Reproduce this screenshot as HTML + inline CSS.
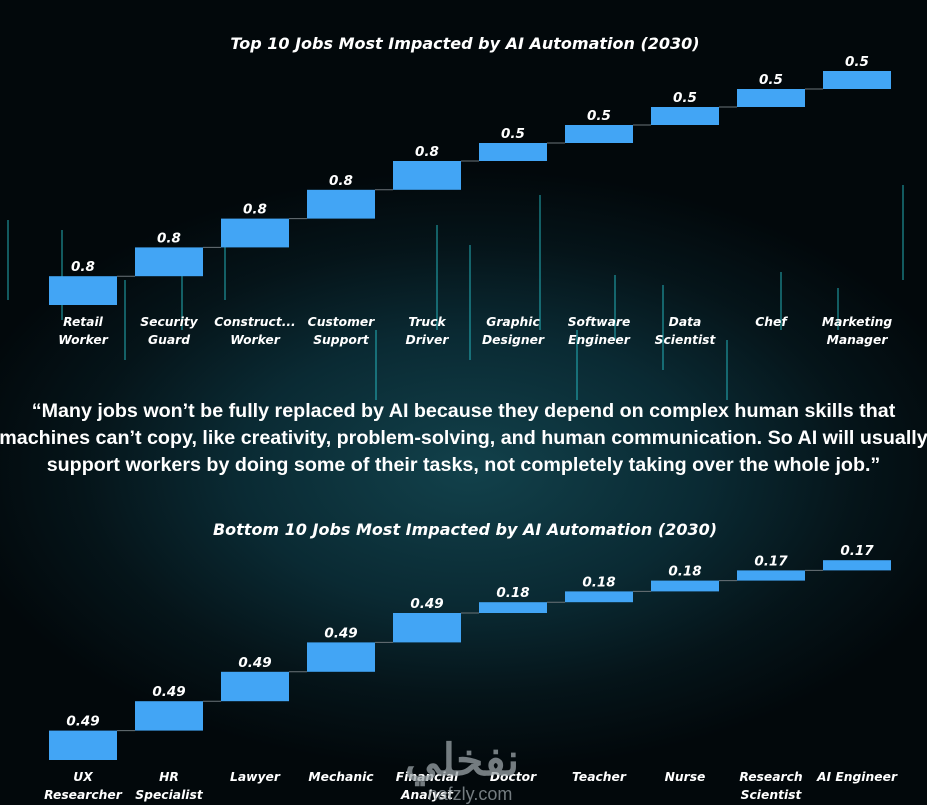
<!DOCTYPE html>
<html><head><meta charset="utf-8"><style>
body{margin:0;width:927px;height:805px;overflow:hidden;background:#03090d;font-family:"Liberation Sans","Noto Sans CJK SC",sans-serif}
#bg{position:absolute;left:0;top:0;width:927px;height:805px;background:radial-gradient(ellipse 520px 300px at 470px 470px,#12414b 0%,#0a2a33 45%,#051419 75%,#02080b 100%)}
svg{position:absolute;left:0;top:0}
.q{position:absolute;left:-20px;width:967px;top:398px;text-align:center;color:#fff;font-weight:bold;font-size:19.7px;line-height:27px;white-space:nowrap}
</style></head><body>
<div id="bg"></div>
<svg id="s" width="927" height="805"></svg>
<div class="q">“Many jobs won’t be fully replaced by AI because they depend on complex human skills that<br>machines can’t copy, like creativity, problem-solving, and human communication. So AI will usually<br>support workers by doing some of their tasks, not completely taking over the whole job.”</div>
<script>
const topCats=[["Retail","Worker"],["Security","Guard"],["Construct...","Worker"],["Customer","Support"],["Truck","Driver"],["Graphic","Designer"],["Software","Engineer"],["Data","Scientist"],["Chef"],["Marketing","Manager"]];
const topVals=[0.8,0.8,0.8,0.8,0.8,0.5,0.5,0.5,0.5,0.5];
const botCats=[["UX","Researcher"],["HR","Specialist"],["Lawyer"],["Mechanic"],["Financial","Analyst"],["Doctor"],["Teacher"],["Nurse"],["Research","Scientist"],["AI Engineer"]];
const botVals=[0.49,0.49,0.49,0.49,0.49,0.18,0.18,0.18,0.17,0.17];
const s=document.getElementById('s');const NS='http://www.w3.org/2000/svg';
const F='"DejaVu Sans","Liberation Sans",sans-serif';
function el(t,a,p){const e=document.createElementNS(NS,t);for(const k in a)e.setAttribute(k,a[k]);(p||s).appendChild(e);return e;}
const streaks=[[8,220,300],[62,230,320],[125,280,360],[182,250,330],[225,240,300],[376,330,400],[437,225,330],[470,245,360],[540,195,330],[577,330,400],[615,275,340],[663,285,370],[727,340,400],[781,272,330],[838,288,330],[903,185,280]];
streaks.forEach(a=>{const l=el('line',{x1:a[0],x2:a[0],y1:a[1],y2:a[2],stroke:'#2ad0d8','stroke-width':1.5,opacity:0.55});});
function chart(cats,vals,title,titleY,base,scale,name){
  const g=el('g',{});
  const t=el('text',{x:465,y:titleY,'text-anchor':'middle',fill:'#fff','font-size':16,'font-weight':'bold','font-style':'italic','font-family':F},g);t.textContent=title;
  
  const x=i=>49+i*86, w=68; let cum=0;const y=v=>base-v*scale;
  vals.forEach((v,i)=>{
    const y0=y(cum),y1=y(cum+v);
    if(i>0){const c=el('line',{x1:x(i)-18,x2:x(i),y1:y0,y2:y0,stroke:'#6a7378','stroke-width':1},g);}
    const r=el('rect',{x:x(i),y:y1,width:w,height:y0-y1,fill:'#42a5f5'},g);
    const l=el('text',{x:x(i)+w/2,y:y1-5,'text-anchor':'middle',fill:'#fff','font-size':13.5,'font-weight':'bold','font-style':'italic','font-family':F},g);l.textContent=v;
    
    cats[i].forEach((c,j)=>{const tt=el('text',{x:x(i)+w/2,y:base+21+j*18,'text-anchor':'middle',fill:'#fff','font-size':12.3,'font-weight':'bold','font-style':'italic','font-family':F},g);tt.textContent=c;
      });
    cum+=v;
  });
}
chart(topCats,topVals,'Top 10 Jobs Most Impacted by AI Automation (2030)',49,305,36,'top-chart');
chart(botCats,botVals,'Bottom 10 Jobs Most Impacted by AI Automation (2030)',535,760,60,'bottom-chart');
const w1=el('text',{x:462,y:775,'text-anchor':'middle',fill:'#9aa3a7','font-size':44,'font-weight':'bold',opacity:0.75});w1.textContent='نفخلي';

const w2=el('text',{x:470,y:800,'text-anchor':'middle',fill:'#9aa3a7','font-size':18,opacity:0.75});w2.textContent='nafzly.com';

</script>
</body></html>
